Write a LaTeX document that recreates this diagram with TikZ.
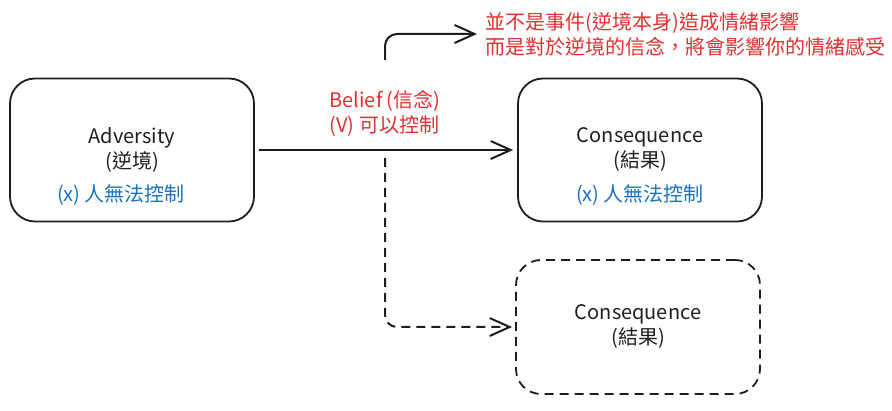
\documentclass[tikz,border=0pt]{standalone}
\usepackage{fontspec}
\setmainfont{Noto Sans CJK TC}
\usetikzlibrary{arrows.meta,positioning}
\definecolor{inkred}{HTML}{E03131}
\definecolor{inkblue}{HTML}{1971C2}
\definecolor{ink}{HTML}{1E1E1E}

\begin{document}
\begin{tikzpicture}[x=1pt,y=-1pt,
  >={Straight Barb[length=20pt,width=18pt,line width=2pt]},
  every node/.style={font=\fontsize{20}{25}\selectfont, text=ink, align=center},
  box/.style={draw=ink, line width=1.8pt, rounded corners=25pt, minimum width=244pt, minimum height=143pt},
  dashbox/.style={box, minimum height=134pt, dash pattern=on 9pt off 6pt},
  link/.style={->, draw=ink, line width=2pt, rounded corners=12pt}]
\useasboundingbox (0,0) rectangle (892,411);

% Step 1: the three boxes
\path
(132,150) node[box] (adv) {Adversity\\(逆境)}
+(-11,45) node[text=inkblue] (advx) {(x) 人無法控制}
(640,150) node[box] (cons) {Consequence\\(結果)}
+(0,45)   node[text=inkblue] (consx) {(x) 人無法控制}
(638,327) node[dashbox] (cons2) {Consequence\\(結果)};

% Step 2: belief label and note
\path
(326,113) node[anchor=west, align=left, text=inkred] (belief) {Belief (信念)\\(V) 可以控制}
(482,34)  node[anchor=west, align=left, text=inkred] (note) {並不是事件(逆境本身)造成情緒影響\\而是對於逆境的信念，將會影響你的情緒感受};

% Step 3: arrows
\coordinate (up0) at (385,60);
\coordinate (dn0) at (385,158);
\draw[link, line width=2.4pt, shorten <=4pt, shorten >=4pt] (adv.east) -- (cons.west);
\draw[link, shorten >=5pt] (up0) |- (note.west);
\draw[link, dash pattern=on 9pt off 6pt, shorten >=3pt] (dn0) |- (cons2.west);

\end{tikzpicture}
\end{document}
